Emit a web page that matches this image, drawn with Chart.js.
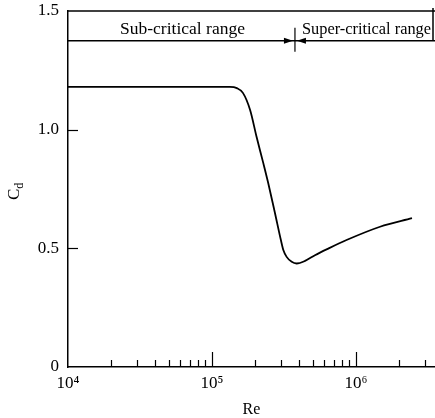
<!DOCTYPE html>
<html>
<head>
<meta charset="utf-8">
<script src="https://cdn.jsdelivr.net/npm/chart.js@4/dist/chart.umd.min.js"></script>
<style>
  html, body { margin: 0; padding: 0; background: #fff; }
  #wrap { width: 435px; height: 418px; position: relative; }
</style>
</head>
<body>
<div id="wrap"><canvas id="c" width="435" height="418"></canvas></div>
<script>
// ---- data ----
const reynolds = [1e4, 3e4, 1e5, 1.33e5, 1.49e5, 1.64e5, 1.84e5, 2.04e5, 2.27e5, 2.46e5, 2.74e5, 3.01e5, 3.13e5, 3.30e5, 3.58e5, 3.87e5, 4.43e5, 5.19e5, 6.42e5, 8.6e5, 1.47e6, 2.45e6];
const dragCoef = [1.18, 1.18, 1.18, 1.18, 1.175, 1.155, 1.083, 0.97, 0.86, 0.774, 0.648, 0.535, 0.493, 0.464, 0.443, 0.436, 0.447, 0.471, 0.499, 0.535, 0.591, 0.627];
const xTickValues = [1e4, 1e5, 1e6];
const xTickLabels = ['10\u2074', '10\u2075', '10\u2076'];
const yTickValues = [0, 0.5, 1.0, 1.5];
const yTickLabels = ['0', '0.5', '1.0', '1.5'];
const criticalRe = 3.77e5;
const rangeLabels = ['Sub-critical range', 'Super-critical range'];
const xTitle = 'Re';
const yTitleMain = 'C';
const yTitleSub = 'd';

const SERIF = '"Liberation Serif", "DejaVu Serif", serif';

const decor = {
  id: 'decor',
  afterDraw(chart) {
    const ctx = chart.ctx;
    const xs = chart.scales.x, ys = chart.scales.y;
    const a = chart.chartArea;
    ctx.save();
    ctx.strokeStyle = '#000';
    ctx.fillStyle = '#000';
    ctx.lineWidth = 1.5;
    // top border
    ctx.beginPath();
    ctx.moveTo(a.left, a.top);
    ctx.lineTo(a.right, a.top);
    ctx.stroke();
    const ya = ys.getPixelForValue(1.375);
    // short right bracket at top
    ctx.beginPath();
    ctx.moveTo(a.right - 2, a.top - 3);
    ctx.lineTo(a.right - 2, ya);
    ctx.stroke();
    // y inward ticks
    ctx.lineWidth = 1.2;
    yTickValues.forEach(v => {
      if (v <= ys.min || v >= ys.max) return;
      const y = Math.round(ys.getPixelForValue(v)) + 0.5;
      ctx.beginPath();
      ctx.moveTo(a.left, y);
      ctx.lineTo(a.left + 10, y);
      ctx.stroke();
    });
    // x inward ticks (major + minor)
    for (let p = 4; p <= 6; p++) {
      for (let k = 1; k <= 9; k++) {
        const v = k * Math.pow(10, p);
        if (v <= xs.min || v > xs.max) continue;
        const x = Math.round(xs.getPixelForValue(v)) + 0.5;
        const len = k === 1 ? 15 : 7;
        ctx.beginPath();
        ctx.moveTo(x, a.bottom);
        ctx.lineTo(x, a.bottom - len);
        ctx.stroke();
      }
    }
    // range arrows
    const xc = xs.getPixelForValue(criticalRe);
    ctx.lineWidth = 1.5;
    ctx.beginPath();
    ctx.moveTo(a.left, ya);
    ctx.lineTo(a.right, ya);
    ctx.stroke();
    ctx.lineWidth = 1.2;
    ctx.beginPath();
    ctx.moveTo(xc, ya - 13);
    ctx.lineTo(xc, ya + 11);
    ctx.stroke();
    // right-pointing head (sub-critical)
    ctx.beginPath();
    ctx.moveTo(xc - 2, ya);
    ctx.lineTo(xc - 11, ya - 3);
    ctx.lineTo(xc - 11, ya + 3);
    ctx.closePath();
    ctx.fill();
    // left-pointing head (super-critical)
    ctx.beginPath();
    ctx.moveTo(xc + 2, ya);
    ctx.lineTo(xc + 11, ya - 3);
    ctx.lineTo(xc + 11, ya + 3);
    ctx.closePath();
    ctx.fill();
    // range labels
    ctx.font = '17.5px ' + SERIF;
    ctx.textBaseline = 'alphabetic';
    ctx.textAlign = 'center';
    ctx.fillText(rangeLabels[0], (a.left + xc) / 2 + 1, ya - 7);
    ctx.textAlign = 'left';
    ctx.fillText(rangeLabels[1], xc + 7, ya - 7, a.right - xc - 11);
    // y title C_d
    ctx.translate(19, 200);
    ctx.rotate(-Math.PI / 2);
    ctx.textAlign = 'left';
    ctx.font = '17px ' + SERIF;
    ctx.fillText(yTitleMain, 0, 0);
    const w = ctx.measureText(yTitleMain).width;
    ctx.font = '12px ' + SERIF;
    ctx.fillText(yTitleSub, w, 4);
    ctx.restore();
  }
};

new Chart(document.getElementById('c'), {
  type: 'scatter',
  data: {
    datasets: [{
      data: reynolds.map((r, i) => ({ x: r, y: dragCoef[i] })),
      showLine: true,
      borderColor: '#000',
      borderWidth: 1.8,
      pointRadius: 0,
      cubicInterpolationMode: 'monotone',
      fill: false
    }]
  },
  options: {
    responsive: false,
    animation: false,
    devicePixelRatio: 1,
    layout: { padding: { top: 11, right: 0, bottom: 0, left: 0 } },
    plugins: { legend: { display: false }, tooltip: { enabled: false } },
    scales: {
      x: {
        type: 'logarithmic',
        min: 1e4,
        max: 3.54e6,
        afterBuildTicks: s => { s.ticks = xTickValues.map(v => ({ value: v })); },
        afterFit: s => { s.height = 51; s.paddingLeft = 0; s.paddingRight = 0; },
        grid: { display: false, drawTicks: false },
        border: { display: true, color: '#000', width: 1.5 },
        ticks: {
          color: '#000',
          font: { family: SERIF, size: 17 },
          padding: 6,
          maxRotation: 0,
          autoSkip: false,
          callback: (v) => { const i = xTickValues.indexOf(v); return i >= 0 ? xTickLabels[i] : ''; }
        },
        title: {
          display: true,
          text: xTitle,
          color: '#000',
          font: { family: SERIF, size: 16, lineHeight: 1 },
          padding: 0
        }
      },
      y: {
        min: 0,
        max: 1.5,
        afterBuildTicks: s => { s.ticks = yTickValues.map(v => ({ value: v })); },
        afterFit: s => { s.width = 68; s.paddingTop = 0; s.paddingBottom = 0; },
        grid: { display: false, drawTicks: false },
        border: { display: true, color: '#000', width: 1.5 },
        ticks: {
          color: '#000',
          font: { family: SERIF, size: 17 },
          padding: 9,
          callback: (v) => { const i = yTickValues.indexOf(v); return i >= 0 ? yTickLabels[i] : ''; }
        }
      }
    }
  },
  plugins: [decor]
});
</script>
</body>
</html>
